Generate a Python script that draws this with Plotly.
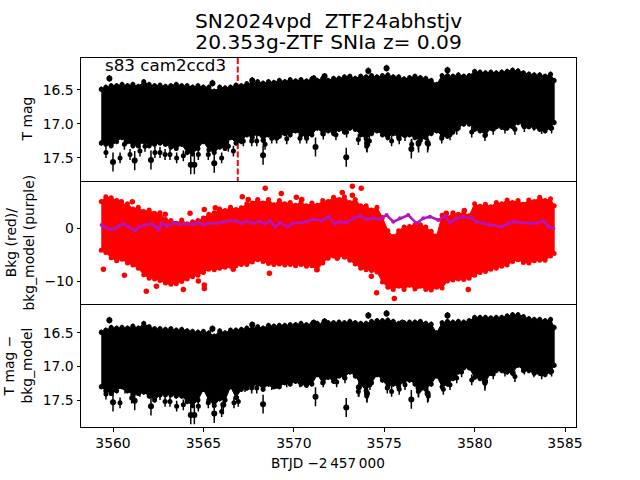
import plotly.graph_objects as go

btjd = [3559.35,3559.6,3559.9,3560.2,3560.5,3560.8,3561.1,3561.4,3561.7,3562.0,3562.3,
        3562.6,3562.9,3563.2,3563.5,3563.8,3564.1,3564.4,3564.7,3565.0,3565.3,
        3565.6,3565.9,3566.2,3566.5,3566.8,3567.1,3567.4,3567.7,3568.0,3568.3,
        3568.6,3568.9,3569.2,3569.5,3569.8,3570.1,3570.4,3570.7,3571.0,3571.3,
        3571.6,3571.9,3572.2,3572.5,3572.8,3573.1,3573.4,3573.7,3574.0,3574.3,
        3574.6,3574.9,3575.2,3575.5,3575.8,3576.1,3576.4,3576.7,3577.0,3577.3,
        3577.6,3577.9,3578.2,3578.5,3578.8,3579.1,3579.4,3579.7,3580.0,3580.3,
        3580.6,3580.9,3581.2,3581.5,3581.8,3582.1,3582.4,3582.7,3583.0,3583.3,
        3583.6,3583.9,3584.2,3584.4]

t_bright = [16.49,16.46,16.44,16.44,16.42,16.44,16.42,16.45,16.38,16.42,16.44,
            16.43,16.45,16.44,16.42,16.44,16.44,16.46,16.44,16.46,16.46,
            16.52,16.46,16.47,16.46,16.43,16.44,16.41,16.41,16.38,16.40,
            16.38,16.39,16.36,16.38,16.35,16.37,16.35,16.37,16.34,16.36,
            16.33,16.36,16.33,16.33,16.31,16.30,16.33,16.30,16.31,16.29,
            16.31,16.29,16.28,16.31,16.31,16.34,16.32,16.30,16.32,16.33,
            16.36,16.42,16.29,16.29,16.30,16.28,16.30,16.29,16.23,16.24,
            16.25,16.24,16.25,16.24,16.23,16.21,16.22,16.25,16.27,16.28,
            16.28,16.30,16.27,16.36]
t_faint = [17.28,17.30,17.32,17.26,17.20,17.26,17.32,17.32,17.26,17.32,17.30,
           17.28,17.30,17.34,17.36,17.30,17.42,17.44,17.36,17.26,17.38,
           17.42,17.34,17.36,17.20,17.28,17.26,17.16,17.20,17.14,17.24,
           17.16,17.18,17.18,17.14,17.16,17.10,17.16,17.18,17.16,17.06,
           17.14,17.10,17.14,17.08,17.12,17.06,17.08,17.16,17.22,17.14,
           17.10,17.16,17.20,17.14,17.20,17.16,17.16,17.20,17.24,17.20,
           17.14,17.10,17.18,17.18,17.12,17.06,17.00,17.00,17.08,17.10,
           17.16,17.06,17.04,17.05,17.06,17.04,16.98,17.02,17.04,17.05,
           17.08,17.10,17.06,16.98]
t_spike_x = [3559.61,3560.39,3560.63,3560.94,3561.49,3561.77,3562.32,3562.6,3562.88,3563.15,3563.52,3563.89,
             3564.72,3565.27,3566.01,3566.38,3566.66,3567.21,3567.67,3567.95,3568.41,3568.78,3569.05,3569.61,
             3570.34,3570.71,3571.63,3572.33,3572.92,3573.57,3574.03,3574.18,3574.86,3575.17,3575.41,3575.83,
             3576.15,3576.52,3576.89,3577.44,3578.18,3578.64,3579.01,3579.84,3580.57,3581.03,3581.68,3582.23,
             3582.75,3583.28,3583.71,3584.26]
t_spike_y = [17.42,17.50,17.30,17.45,17.40,17.33,17.42,17.42,17.45,17.45,17.50,17.47,
             17.45,17.45,17.50,17.33,17.40,17.25,17.25,17.25,17.30,17.21,17.21,17.22,
             17.21,17.21,17.15,17.16,17.12,17.23,17.33,17.25,17.10,17.16,17.25,17.22,
             17.17,17.30,17.30,17.30,17.21,17.16,17.08,17.12,17.17,17.08,17.06,17.08,
             17.04,17.02,17.07,17.06]
t_bright_out_x = [3559.8,3565.5,3567.7,3571.1,3571.7,3574.12,3575.13,3578.5]
t_bright_out_y = [16.33,16.40,16.36,16.33,16.30,16.22,16.18,16.21]
t_faint_out_x = [3560.0,3561.2,3562.1,3564.3,3564.5,3565.6,3568.3,3571.2,3572.9,3576.5,3574.05,3576.9,3577.4]
t_faint_out_y = [17.56,17.54,17.53,17.60,17.60,17.58,17.46,17.34,17.49,17.37,17.28,17.28,17.28]

b_bright = [16.49,16.46,16.42,16.43,16.42,16.43,16.40,16.43,16.36,16.41,16.44,
            16.44,16.45,16.44,16.46,16.45,16.47,16.48,16.49,16.48,16.50,
            16.55,16.47,16.50,16.46,16.46,16.45,16.43,16.44,16.41,16.43,
            16.39,16.40,16.39,16.39,16.38,16.38,16.36,16.38,16.37,16.36,
            16.37,16.35,16.35,16.34,16.35,16.33,16.35,16.36,16.36,16.33,
            16.32,16.32,16.31,16.33,16.36,16.35,16.34,16.34,16.33,16.36,
            16.37,16.50,16.35,16.33,16.34,16.33,16.34,16.32,16.27,16.27,
            16.27,16.28,16.27,16.27,16.25,16.23,16.23,16.26,16.29,16.30,
            16.30,16.32,16.30,16.42]
b_faint = [17.30,17.36,17.40,17.36,17.30,17.36,17.42,17.40,17.38,17.44,17.50,
           17.42,17.42,17.42,17.44,17.44,17.52,17.58,17.50,17.34,17.50,
           17.58,17.48,17.50,17.30,17.46,17.34,17.32,17.28,17.26,17.34,
           17.26,17.30,17.30,17.24,17.26,17.22,17.26,17.28,17.26,17.12,
           17.24,17.16,17.22,17.14,17.16,17.08,17.14,17.26,17.36,17.24,
           17.12,17.20,17.30,17.26,17.30,17.22,17.20,17.26,17.34,17.34,
           17.26,17.14,17.30,17.26,17.18,17.08,17.02,17.02,17.16,17.18,
           17.22,17.10,17.06,17.06,17.08,17.10,16.98,17.06,17.06,17.10,
           17.10,17.12,17.08,16.98]
b_spike_x = [3559.61,3560.39,3560.66,3561.03,3561.49,3562.32,3562.6,3562.88,3563.15,3563.52,3563.89,3564.72,
             3565.27,3566.01,3566.38,3566.69,3566.93,3567.3,3567.67,3567.95,3568.78,3569.05,3569.61,3570.34,3570.71,3571.63,
             3572.37,3572.83,3573.57,3574.03,3574.21,3574.86,3575.17,3575.41,3575.83,3576.15,3576.89,3577.44,
             3578.27,3578.64,3579.01,3579.28,3579.84,3580.57,3581.03,3581.68,3582.23,3582.75,3583.28,3583.71,3584.26]
b_spike_y = [17.41,17.54,17.32,17.47,17.37,17.44,17.42,17.52,17.52,17.59,17.57,17.59,
             17.54,17.67,17.27,17.54,17.52,17.30,17.32,17.32,17.27,17.25,17.23,17.23,17.23,17.23,
             17.23,17.17,17.37,17.44,17.27,17.12,17.32,17.37,17.34,17.27,17.37,17.44,
             17.34,17.27,17.17,17.08,17.20,17.25,17.11,17.07,17.15,17.04,17.08,17.11,17.07]
b_bright_out_x = [3559.8,3565.5,3567.7,3571.1,3571.7,3574.12,3575.13,3578.5,3576.0]
b_bright_out_y = [16.31,16.44,16.38,16.35,16.33,16.24,16.21,16.24,16.35]
b_faint_out_x = [3560.0,3561.2,3562.1,3564.3,3564.5,3565.6,3566.1,3568.3,3571.2,3572.9,3576.5,3574.05,3573.6,3576.9,3577.4,3580.57]
b_faint_out_y = [17.53,17.51,17.59,17.72,17.72,17.70,17.57,17.56,17.45,17.61,17.49,17.40,17.31,17.32,17.40,17.22]

bkg_hi = [5.0,5.9,5.7,5.2,4.4,4.6,3.6,3.9,3.1,3.4,2.8,
          2.9,1.6,1.4,0.9,1.5,0.8,1.2,1.4,1.9,2.6,
          2.9,3.6,3.3,3.9,3.5,3.8,4.6,4.7,5.4,4.7,
          5.4,4.4,5.2,4.6,4.8,4.3,4.9,4.2,4.7,4.3,
          5.2,5.0,5.8,5.4,5.9,4.8,5.4,4.2,4.2,3.4,
          3.9,2.0,-0.5,-1.6,-0.5,0.2,0.3,0.6,0.6,0.2,
          -0.6,-1.5,2.4,2.0,2.9,2.6,2.9,2.3,4.6,4.1,
          4.5,4.0,4.8,4.6,5.3,4.8,5.2,4.5,5.3,5.0,
          5.8,5.2,5.5,4.2]
bkg_lo = [-4.2,-4.6,-5.6,-6.2,-5.9,-6.6,-7.0,-7.6,-8.8,-9.5,-9.6,
          -9.9,-10.4,-10.6,-10.5,-10.1,-9.6,-9.2,-8.9,-8.4,-7.8,
          -7.9,-7.6,-7.4,-7.2,-7.1,-6.9,-6.9,-6.4,-6.0,-6.3,
          -6.7,-6.9,-6.8,-7.0,-6.9,-7.1,-6.9,-7.2,-7.1,-7.9,
          -6.6,-5.7,-5.3,-5.2,-5.5,-6.1,-6.8,-7.6,-7.9,-8.0,
          -8.3,-10.2,-11.2,-11.6,-11.0,-11.6,-10.8,-11.5,-11.0,-11.6,
          -11.7,-11.2,-11.3,-10.0,-9.8,-9.6,-9.7,-9.5,-8.9,-8.4,
          -8.2,-7.8,-7.6,-7.2,-7.0,-6.3,-6.0,-6.5,-6.6,-6.2,
          -6.1,-6.1,-5.3,-4.8]
bkg_out_x = [3560.46,3561.07,3562.89,3564.26,3565.05,3565.66,3567.15,3567.48,3569.31,3568.42,3570.14,3570.44,
             3559.47,3560.63,3561.84,3562.4,3563.89,3564.72,3565.05,3565.05,3566.65,3568.65,3572.4,3571.27,
             3573.24,3573.73,3572.68,3573.24,3574.58,3575.56,3574.29,3579.65,3576.83,3579.43,3578.43]
bkg_out_y = [4.97,4.97,2.58,2.77,3.5,3.83,5.9,5.4,6.5,7.5,5.8,5.4,
             -7.8,-8.9,-11.95,-11,-11.6,-10,-10.75,-11.4,-7.8,-8.55,-5.7,-7.9,
             7.9,7.5,6.7,6.2,-12.2,-13.3,-9.1,-11.6,-11,3.3,2.8]

model_x = [3559.37,3559.56,3559.83,3560.11,3560.35,3560.57,3560.85,3561.22,3561.46,3561.77,3562.14,3562.38,
           3562.51,3562.69,3563.0,3563.34,3563.71,3564.17,3564.44,3564.72,3565.0,3565.27,3565.73,3566.1,
           3566.47,3566.84,3567.12,3567.39,3567.76,3568.13,3568.41,3568.68,3568.96,3569.24,3569.64,3569.97,
           3570.44,3570.71,3571.08,3571.54,3571.91,3572.28,3572.52,3572.92,3573.29,3573.66,3574.03,3574.4,
           3574.77,3575.13,3575.5,3575.87,3576.33,3576.79,3577.16,3577.53,3577.99,3578.36,3578.64,3579.01,
           3579.37,3579.84,3580.11,3580.48,3580.85,3581.49,3581.86,3582.14,3582.6,3583.06,3583.43,3583.8,
           3584.08,3584.35]
model_y = [0.57,0.13,-0.26,-0.13,0.44,0.75,0.25,-0.51,0.25,0.57,0.75,0.25,
           -0.38,0.88,0.38,1.0,0.69,0.75,0.75,1.0,0.57,0.88,0.88,1.13,
           1.38,1.26,0.88,1.26,0.88,1.26,0.75,1.38,0.25,1.0,0.25,0.88,
           1.0,1.2,1.64,1.38,2.14,0.75,1.2,1.0,1.82,2.26,1.64,1.82,
           1.64,2.45,1.2,1.82,2.45,0.88,1.82,2.14,1.51,2.26,1.0,1.82,
           2.14,1.82,1.2,0.88,0.57,0.25,0.88,1.2,1.0,0.88,0.88,1.38,
           0.25,-0.06]

xticks = [3560,3565,3570,3575,3580,3585]
yticks_mag = [16.5,17.0,17.5]
yticks_bkg = [0,-10]
sn_line_t = 3566.9

BLACK = "#000000"; RED = "#ff0000"; PURPLE = "#b414be"
W, H = 640, 480
L, R = 81, 575.5
P = [(58,181),(181,304),(304,427)]
px = lambda v: v/W
py = lambda v: 1-v/H

fig = go.Figure()
ERR = dict(type="constant", color=BLACK, thickness=1.5, width=0)

def band(xa, ya, hi, lo, color, err):
    ref = dict(xaxis=xa, yaxis=ya)
    fig.add_trace(go.Scatter(x=btjd+btjd[::-1], y=hi+lo[::-1], mode="lines", fill="toself",
                             fillcolor=color, line=dict(color=color, width=1), **ref))
    for arr in (hi, lo):
        kw = dict(error_y=dict(ERR, value=err)) if err else {}
        fig.add_trace(go.Scatter(x=btjd, y=arr, mode="markers",
                                 marker=dict(color=color, size=5, line=dict(width=0)), **kw, **ref))

def points(xa, ya, xs, ys, size, err, color=BLACK):
    kw = dict(error_y=dict(ERR, value=err)) if err else {}
    fig.add_trace(go.Scatter(x=xs, y=ys, mode="markers", xaxis=xa, yaxis=ya,
                             marker=dict(color=color, size=size, line=dict(width=0)), **kw))

fig.add_trace(go.Scatter(x=[sn_line_t,sn_line_t],y=[16.03,17.84],mode="lines",xaxis="x",yaxis="y",
    line=dict(color=RED,width=2,dash="6px,2.5px")))
band("x","y",t_bright,t_faint,BLACK,0.04)
points("x","y",t_spike_x,t_spike_y,5,0.08)
points("x","y",t_bright_out_x,t_bright_out_y,6,0.05)
points("x","y",t_faint_out_x,t_faint_out_y,6,0.14)

band("x2","y2",bkg_hi,bkg_lo,RED,0)
points("x2","y2",bkg_out_x,bkg_out_y,5.5,0,RED)
fig.add_trace(go.Scatter(x=model_x,y=model_y,mode="lines+markers",xaxis="x2",yaxis="y2",
    line=dict(color=PURPLE,width=2.5),marker=dict(color=PURPLE,size=4,line=dict(width=0))))

band("x3","y3",b_bright,b_faint,BLACK,0.04)
points("x3","y3",b_spike_x,b_spike_y,5,0.08)
points("x3","y3",b_bright_out_x,b_bright_out_y,6,0.05)
points("x3","y3",b_faint_out_x,b_faint_out_y,6,0.14)

F = "DejaVu Sans"
xrange_ = [3558.23,3585.58]
def xax(anchor, labels, mirror):
    return dict(domain=[px(L),px(R)],range=xrange_,anchor=anchor,showgrid=False,zeroline=False,automargin=False,
                showline=True,linecolor=BLACK,linewidth=1,mirror=mirror,
                tickmode="array",tickvals=xticks,ticktext=[str(v) for v in xticks] if labels else [""]*6,
                ticks="outside" if labels else "",ticklen=3.5,tickwidth=1,tickcolor=BLACK,
                tickfont=dict(family=F,size=13.9,color=BLACK))
def yax(anchor, rng, vals, text, panel):
    return dict(domain=[py(panel[1]),py(panel[0])],range=rng,anchor=anchor,showgrid=False,zeroline=False,automargin=False,
                showline=True,linecolor=BLACK,linewidth=1,mirror=True,
                tickmode="array",tickvals=vals,ticktext=text,ticks="outside",ticklen=3.5,tickwidth=1,
                tickcolor=BLACK,tickfont=dict(family=F,size=13.9,color=BLACK))

mag_text = ["16.5","17.0","17.5"]
def note(text, x, y, size, anchor="center", **kw):
    return dict(text=text,xref="paper",yref="paper",x=px(x),y=py(y),xanchor=anchor,yanchor="middle",
                showarrow=False,font=dict(family=F,size=size,color=BLACK),**kw)
TITLE_SPAN = '<span style="font-size:20.2px">%s</span>'
fig.update_layout(
    width=W,height=H,margin=dict(l=0,r=0,t=0,b=0),showlegend=False,
    paper_bgcolor="white",plot_bgcolor="white",
    xaxis=xax("y",False,True),xaxis2=xax("y2",False,False),xaxis3=xax("y3",True,False),
    yaxis=yax("x",[17.84,16.03],yticks_mag,mag_text,P[0]),
    yaxis2=yax("x2",[-14.34,8.87],yticks_bkg,["0","\u221210"],P[1]),
    yaxis3=yax("x3",[17.9,16.07],yticks_mag,mag_text,P[2]),
    annotations=[
        note(TITLE_SPAN % "SN2024vpd\u00a0\u00a0ZTF24abhstjv" + "<br>" + TITLE_SPAN % "20.353g-ZTF SNIa z= 0.09",
             328,32,16),
        note("s83 cam2ccd3",103,65,16.7,"left"),
        note("BTJD \u22122\u2009457\u2009000",328,463,13.6),
        note("T mag",26,119.5,13.9,textangle=-90),
        note("Bkg (red)/<br>bkg_model (purple)",19,242.5,13.9,textangle=-90),
        note("T mag \u2212<br>bkg_model",17,365.5,13.9,textangle=-90),
    ],
)
fig.write_html("out.html", config={"displayModeBar": False},
               post_script="document.body.style.margin='0';")
